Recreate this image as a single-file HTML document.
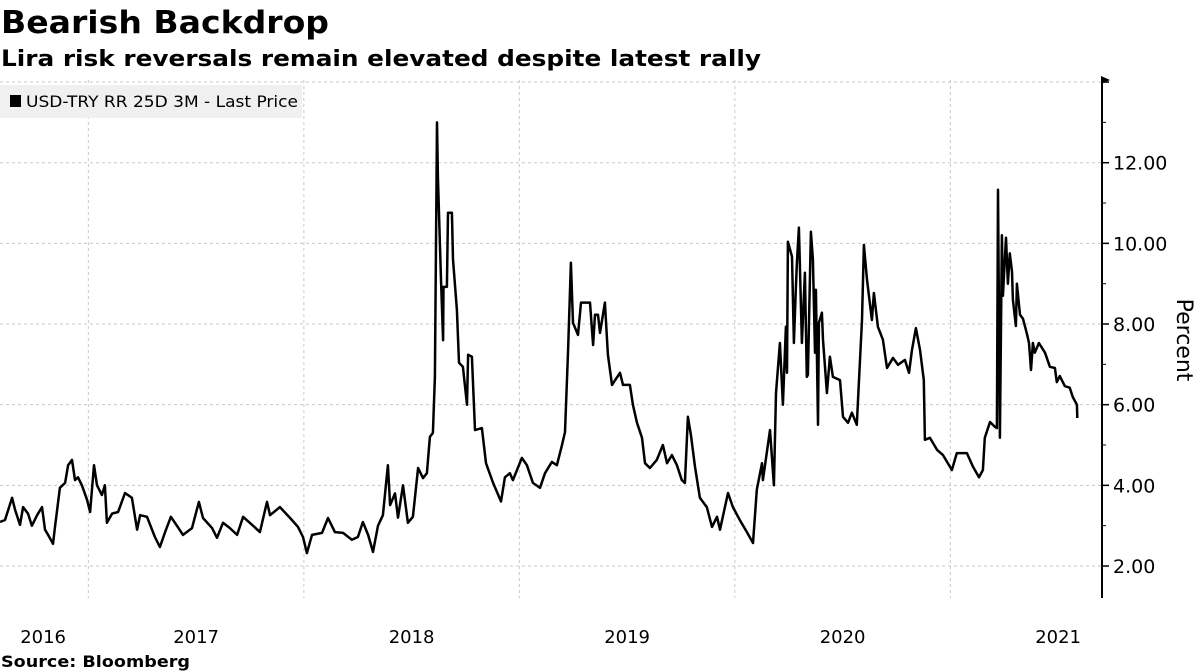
<!DOCTYPE html>
<html><head><meta charset="utf-8"><style>
body{margin:0;background:#fff;width:1198px;height:671px;overflow:hidden;font-family:"DejaVu Sans",sans-serif}
svg{position:absolute;left:0;top:0}
</style></head><body>
<svg id="chart" width="1198" height="671" xmlns="http://www.w3.org/2000/svg">
<text x="1" y="33" font-family="DejaVu Sans" font-weight="bold" font-size="31" textLength="328" lengthAdjust="spacingAndGlyphs" fill="#000">Bearish Backdrop</text>
<text x="1" y="66" font-family="DejaVu Sans" font-weight="bold" font-size="22" textLength="760" lengthAdjust="spacingAndGlyphs" fill="#000">Lira risk reversals remain elevated despite latest rally</text>
<g id="grid"></g>
<g id="axes"></g>
<g>
<rect x="0" y="85" width="302" height="33" fill="#f0f0f0"/>
<rect x="10" y="95" width="11" height="12" fill="#000"/>
<text x="26" y="107" font-family="DejaVu Sans" font-size="16" textLength="272" lengthAdjust="spacingAndGlyphs" fill="#000">USD-TRY RR 25D 3M - Last Price</text>
</g>
<path id="line" fill="none" stroke="#000" stroke-width="2.5" stroke-linejoin="round"/>
<text transform="translate(1177,340) rotate(90)" text-anchor="middle" font-family="DejaVu Sans" font-size="22" fill="#000">Percent</text>
<text x="1" y="667" font-family="DejaVu Sans" font-weight="bold" font-size="16" textLength="189" lengthAdjust="spacingAndGlyphs" fill="#000">Source:  Bloomberg</text>
</svg>
<script>
const dates=[2016.590,2016.613,2016.646,2016.660,2016.683,2016.697,2016.720,2016.738,2016.762,2016.785,2016.799,2016.813,2016.836,2016.845,2016.868,2016.892,2016.906,2016.924,2016.938,2016.952,2016.970,2016.994,2017.008,2017.026,2017.040,2017.063,2017.077,2017.086,2017.110,2017.138,2017.170,2017.202,2017.226,2017.240,2017.272,2017.309,2017.332,2017.356,2017.383,2017.411,2017.439,2017.481,2017.513,2017.532,2017.574,2017.597,2017.625,2017.657,2017.690,2017.718,2017.764,2017.796,2017.829,2017.843,2017.889,2017.936,2017.973,2017.996,2018.014,2018.038,2018.084,2018.112,2018.144,2018.182,2018.223,2018.251,2018.274,2018.298,2018.321,2018.344,2018.367,2018.390,2018.400,2018.423,2018.437,2018.460,2018.483,2018.506,2018.530,2018.553,2018.571,2018.585,2018.599,2018.608,2018.618,2018.622,2018.636,2018.646,2018.648,2018.664,2018.669,2018.687,2018.692,2018.710,2018.720,2018.738,2018.757,2018.762,2018.780,2018.794,2018.826,2018.845,2018.878,2018.915,2018.933,2018.956,2018.970,2019.012,2019.035,2019.063,2019.096,2019.119,2019.151,2019.174,2019.198,2019.212,2019.226,2019.239,2019.249,2019.272,2019.286,2019.328,2019.342,2019.351,2019.365,2019.374,2019.397,2019.411,2019.430,2019.467,2019.481,2019.513,2019.527,2019.546,2019.569,2019.583,2019.606,2019.638,2019.666,2019.685,2019.708,2019.731,2019.754,2019.768,2019.782,2019.796,2019.815,2019.838,2019.870,2019.894,2019.917,2019.931,2019.968,2019.991,2020.023,2020.056,2020.084,2020.102,2020.126,2020.130,2020.163,2020.181,2020.191,2020.209,2020.223,2020.237,2020.242,2020.246,2020.265,2020.274,2020.283,2020.288,2020.297,2020.311,2020.325,2020.334,2020.339,2020.353,2020.362,2020.372,2020.376,2020.386,2020.390,2020.404,2020.409,2020.427,2020.441,2020.455,2020.488,2020.502,2020.525,2020.543,2020.566,2020.576,2020.590,2020.599,2020.613,2020.636,2020.645,2020.664,2020.687,2020.706,2020.734,2020.757,2020.789,2020.808,2020.822,2020.840,2020.859,2020.877,2020.882,2020.905,2020.938,2020.966,2021.007,2021.030,2021.077,2021.105,2021.133,2021.151,2021.160,2021.184,2021.207,2021.216,2021.221,2021.230,2021.239,2021.244,2021.258,2021.267,2021.276,2021.286,2021.290,2021.304,2021.309,2021.323,2021.337,2021.355,2021.365,2021.374,2021.383,2021.392,2021.411,2021.439,2021.462,2021.485,2021.494,2021.508,2021.531,2021.554,2021.568,2021.587,2021.589];
const values=[3.09,3.14,3.69,3.39,3.02,3.46,3.3,3.0,3.26,3.46,2.9,2.77,2.55,2.97,3.94,4.06,4.5,4.63,4.13,4.2,4.0,3.64,3.34,4.5,4.0,3.76,4.0,3.07,3.3,3.34,3.81,3.69,2.9,3.26,3.22,2.72,2.47,2.84,3.22,3.0,2.77,2.94,3.59,3.19,2.94,2.7,3.07,2.94,2.77,3.22,3.0,2.84,3.59,3.26,3.46,3.19,2.97,2.72,2.32,2.77,2.82,3.19,2.84,2.82,2.65,2.72,3.09,2.77,2.35,3.0,3.26,4.5,3.51,3.8,3.2,4.0,3.07,3.22,4.43,4.18,4.3,5.2,5.3,6.69,13.0,11.65,9.17,7.6,8.92,8.92,10.76,10.76,9.6,8.35,7.04,6.94,6.0,7.24,7.19,5.37,5.42,4.55,4.06,3.6,4.2,4.3,4.13,4.68,4.5,4.06,3.94,4.3,4.58,4.5,5.0,5.32,7.36,9.52,8.03,7.73,8.53,8.53,7.48,8.23,8.23,7.78,8.53,7.24,6.49,6.79,6.49,6.49,6.0,5.55,5.18,4.55,4.43,4.63,5.0,4.55,4.75,4.5,4.13,4.06,5.7,5.25,4.46,3.69,3.46,2.97,3.22,2.9,3.81,3.46,3.14,2.84,2.57,3.89,4.55,4.13,5.37,4.0,6.29,7.53,6.0,7.93,6.79,10.04,9.67,7.53,8.85,9.52,10.39,7.53,9.27,6.69,6.74,10.29,9.6,7.29,8.85,5.5,8.03,8.28,7.61,6.29,7.19,6.69,6.61,5.7,5.55,5.8,5.5,6.61,8.1,9.96,9.1,8.1,8.77,7.93,7.61,6.91,7.16,6.99,7.11,6.79,7.36,7.9,7.36,6.61,5.13,5.18,4.88,4.75,4.38,4.8,4.8,4.46,4.2,4.38,5.18,5.57,5.45,5.42,11.33,5.18,10.2,8.7,10.14,9.0,9.75,9.3,8.6,7.95,9.0,8.23,8.13,7.76,7.53,6.86,7.53,7.29,7.53,7.29,6.94,6.91,6.56,6.71,6.46,6.42,6.19,6.0,5.67];
const yTicks=[2,4,6,8,10,12,14];
const yTickLabels=["2.00","4.00","6.00","8.00","10.00","12.00",""];
const yearStarts=[2017,2018,2019,2020,2021];
const yearLabels=["2016","2017","2018","2019","2020","2021"];
const yearLabelPos=[2016.79,2017.5,2018.5,2019.5,2020.5,2021.5];

const NS="http://www.w3.org/2000/svg";
const X=t=>(t-2016.59)*215.5;
const Y=v=>566-(v-2)*40.33;
const AX=1102, TOP=80, BOT=598;
const grid=document.getElementById('grid'), axes=document.getElementById('axes');
function mk(tag,attrs,parent){const e=document.createElementNS(NS,tag);for(const k in attrs)e.setAttribute(k,attrs[k]);parent.appendChild(e);return e;}
yTicks.forEach((v,i)=>{
  const g=mk('line',{x1:0,x2:AX,y1:Y(v),y2:Y(v),stroke:'#c8c8c8','stroke-width':1,'stroke-dasharray':'3,3'},grid);
  
  
  const t=mk('line',{x1:AX,x2:AX+7,y1:Y(v),y2:Y(v),stroke:'#000','stroke-width':1.5},axes);
  
  
  if(yTickLabels[i]){
    const l=mk('text',{x:AX+11,y:Y(v)+7,'font-family':'DejaVu Sans','font-size':19,fill:'#000'},axes);
    l.textContent=yTickLabels[i];
    
    
  }
  if(i<yTicks.length-1){
    const m=mk('line',{x1:AX,x2:AX+4,y1:Y(v+1),y2:Y(v+1),stroke:'#000','stroke-width':1},axes);
    
    
  }
});
yearStarts.forEach(y=>{
  const g=mk('line',{x1:X(y),x2:X(y),y1:TOP,y2:BOT,stroke:'#c8c8c8','stroke-width':1,'stroke-dasharray':'3,3'},grid);
  
  
});
yearLabels.forEach((s,i)=>{
  const l=mk('text',{x:X(yearLabelPos[i]),y:643,'text-anchor':'middle','font-family':'DejaVu Sans','font-size':18,fill:'#000'},axes);
  l.textContent=s;
  
  
});
const ax=mk('line',{x1:AX,x2:AX,y1:TOP,y2:BOT,stroke:'#000','stroke-width':2},axes);


const ar=mk('path',{d:`M${AX-1},${TOP-4} L${AX+8},${TOP} L${AX-1},${TOP+4} Z`,fill:'#000'},axes);


let d='';
dates.forEach((t,i)=>{d+=(i?'L':'M')+X(t).toFixed(1)+','+Y(values[i]).toFixed(1);});
document.getElementById('line').setAttribute('d',d);
</script>
</body></html>
